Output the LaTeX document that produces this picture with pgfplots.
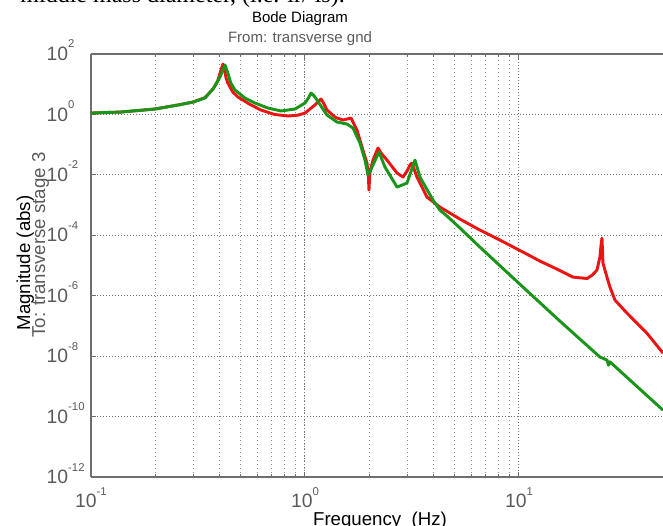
\documentclass[border=0pt]{standalone}
\usepackage{fontspec}
\setmainfont{Liberation Sans}
\newfontfamily\seriffont{Liberation Serif}
\usepackage{pgfplots}
\pgfplotsset{compat=1.18}
\definecolor{mred}{RGB}{235,20,20}
\definecolor{mgreen}{RGB}{25,150,25}
\definecolor{labgray}{RGB}{90,90,90}
\definecolor{axgray}{RGB}{110,110,110}
\newcommand{\tl}[1]{\mbox{10\raisebox{9.5pt}{\fontsize{8.5}{8.5}\selectfont #1}}}
\begin{document}
\begin{tikzpicture}
\useasboundingbox (0pt,0pt) rectangle (497.25pt,393.75pt);
\clip (0pt,0pt) rectangle (497.25pt,393.75pt);
\begin{scope}[x=0.75pt,y=0.75pt]
\node[anchor=base east, inner sep=0pt, font=\seriffont\fontsize{18}{18}\selectfont] at (345,522) {middle mass diameter, (i.e. lr/ ls).};
\node[anchor=base, inner sep=0pt, font=\fontsize{11.25}{12}\selectfont] at (300,502) {Bode Diagram};
\node[anchor=base, inner sep=0pt, text=labgray, font=\fontsize{11.25}{12}\selectfont] at (300,482) {From: transverse gnd};
\node[anchor=base, inner sep=0pt, rotate=90, font=\fontsize{14}{14}\selectfont] at (30,262) {Magnitude (abs)};
\node[anchor=base, inner sep=0pt, rotate=90, text=labgray, font=\fontsize{14}{14}\selectfont] at (45,280) {To: transverse stage 3};
\node[anchor=base, inner sep=0pt, font=\fontsize{14}{14}\selectfont] at (380,0) {Frequency\ \ (Hz)};
\end{scope}
\begin{axis}[
  at={(68.25pt,36pt)}, anchor=south west, scale only axis,
  width=429pt, height=317.25pt,
  xmode=log, ymode=log,
  xmin=0.1, xmax=47.1, ymin=1e-12, ymax=1e2,
  axis x line*=box, axis y line*=left,
  axis line style={-, axgray, line width=1.5pt},
  xtick={0.1,1,10}, xticklabels={\tl{-1},\tl{0},\tl{1}},
  ytick={1e-12,1e-10,1e-8,1e-6,1e-4,1e-2,1,1e2},
  yticklabels={\tl{-12},\tl{-10},\tl{-8},\tl{-6},\tl{-4},\tl{-2},\tl{0},\tl{2}},
  yminorticks=false,
  xmajorgrids, xminorgrids, ymajorgrids,
  major grid style={dash pattern=on 0.75pt off 1.5pt, black!55, line width=0.75pt},
  minor grid style={dash pattern=on 0.75pt off 2.25pt, black!45, line width=0.75pt},
  tick style={axgray, line width=0.75pt}, major tick length=4pt, minor tick length=2pt,
  xticklabel style={anchor=base, yshift=-23pt, text=labgray, font=\fontsize{14.5}{14.5}\selectfont},
  yticklabel style={anchor=base west, xshift=-36.75pt, yshift=-5pt, text=labgray, font=\fontsize{14.5}{14.5}\selectfont},
]
\addplot[mred, line width=2.2pt, line join=round] coordinates {
(0.1,1.11) (0.138,1.20) (0.199,1.51) (0.255,2.05) (0.300,2.57) (0.341,3.6) (0.372,7.0) (0.390,12) (0.401,23.5) (0.414,46.7) (0.420,30) (0.428,16) (0.436,10.96) (0.46,5.5) (0.486,3.77) (0.55,2.2) (0.622,1.40) (0.72,1.0) (0.833,0.885) (0.93,0.95) (1.0,1.11) (1.113,2.05) (1.16,2.8) (1.188,3.24) (1.22,2.4) (1.267,1.40) (1.38,0.82) (1.411,0.76) (1.505,0.653) (1.641,0.76) (1.75,0.304) (1.847,0.0834) (1.949,0.0246) (1.98,0.008) (1.991,0.00314) (2.0,0.006) (2.012,0.012) (2.079,0.0309) (2.193,0.0771) (2.28,0.05) (2.416,0.0309) (2.692,0.0115) (2.871,0.00845) (3.0,0.0135) (3.095,0.0211) (3.162,0.0246) (3.24,0.015) (3.337,0.00845) (3.716,0.00184) (4.27,8.59e-4) (5.3,3.43e-4) (6.57,1.49e-4) (8.15,6.93e-5) (10.44,2.78e-5) (12.53,1.40e-5) (15.05,7.6e-6) (17.88,4.13e-6) (19.91,3.83e-6) (20.78,3.7e-6) (22.0,4.8e-6) (23.14,7.05e-6) (23.9,1.9e-5) (24.2,5e-5) (24.43,8.07e-5) (24.69,1.2e-5) (25.77,4.13e-6) (26.62,1.93e-6) (28.1,7.15e-7) (31.97,2.65e-7) (39.6,5.78e-8) (47.1,1.26e-8)
};
\addplot[mgreen, line width=2.2pt, line join=round] coordinates {
(0.1,1.11) (0.138,1.20) (0.199,1.51) (0.255,2.05) (0.300,2.57) (0.341,3.49) (0.372,7.0) (0.401,17.3) (0.415,32) (0.423,43.2) (0.436,23.5) (0.45,11) (0.471,6.43) (0.524,3.49) (0.584,2.38) (0.671,1.63) (0.773,1.30) (0.898,1.51) (1.0,2.38) (1.04,3.6) (1.067,5.11) (1.1,4.2) (1.138,3.00) (1.267,0.955) (1.411,0.560) (1.571,0.481) (1.676,0.355) (1.807,0.113) (1.907,0.0309) (1.970,0.00985) (2.056,0.0181) (2.218,0.0569) (2.365,0.0181) (2.692,0.00394) (2.997,0.00535) (3.266,0.0309) (3.446,0.00845) (3.963,0.00147) (4.27,6.83e-4) (4.61,4.32e-4) (5.30,1.73e-4) (6.57,4.06e-5) (10.44,1.93e-6) (15.54,1.44e-7) (23.9,9.33e-9) (25.8,7.4e-9) (26.2,5.0e-9) (26.6,6.5e-9) (47.1,1.63e-10)
};
\end{axis}
\end{tikzpicture}
\end{document}
